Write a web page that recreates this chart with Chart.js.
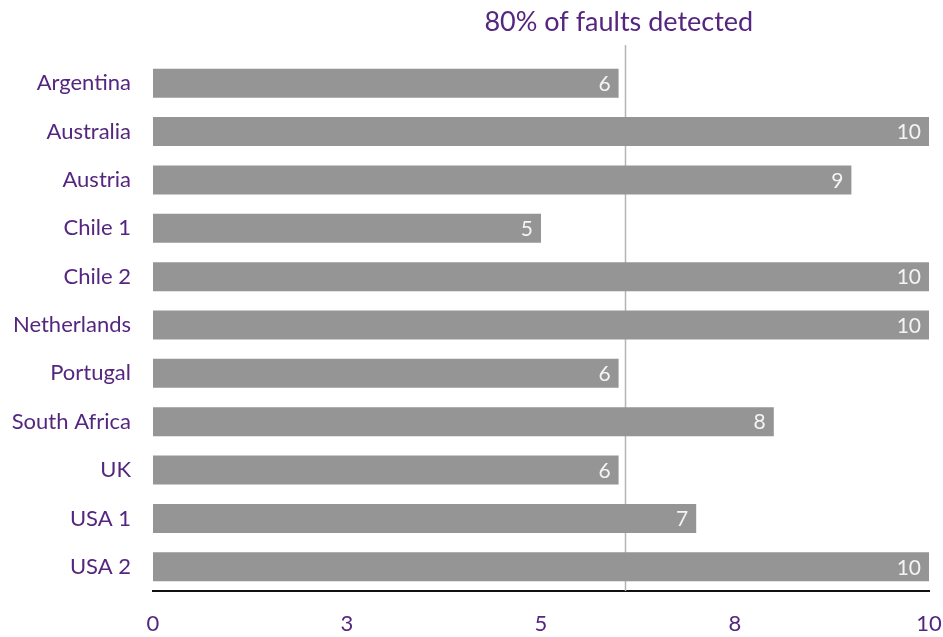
<!DOCTYPE html>
<html>
<head>
<meta charset="utf-8">
<script src="https://cdn.jsdelivr.net/npm/chart.js@4/dist/chart.umd.min.js"></script>
<style>
  html, body { margin: 0; padding: 0; background: #fff; }
  #wrap { width: 943px; height: 637px; }
</style>
</head>
<body>
<div id="wrap"><canvas id="faults-chart"></canvas></div>
<script>
const countries = ['Argentina', 'Australia', 'Austria', 'Chile 1', 'Chile 2', 'Netherlands',
  'Portugal', 'South Africa', 'UK', 'USA 1', 'USA 2'];
const faultsDetected = [6, 10, 9, 5, 10, 10, 6, 8, 6, 7, 10];
const tickValues = [0, 2.5, 5, 7.5, 10];
const tickLabels = ['0', '3', '5', '8', '10'];
const thresholdValue = 6.08;
const thresholdLabel = '80% of faults detected';

const purple = '#55267f';
const font = 'Lato, "DejaVu Sans", sans-serif';

// threshold line, its label and the numbers at the end of each bar
const overlay = {
  id: 'overlay',
  beforeDatasetsDraw(chart) {
    const { ctx, chartArea, scales: { x } } = chart;
    const px = Math.round(x.getPixelForValue(thresholdValue)) + 0.5;
    ctx.save();
    ctx.strokeStyle = '#b4b4b4';
    ctx.lineWidth = 1.5;
    ctx.beginPath();
    ctx.moveTo(px, 45);
    ctx.lineTo(px, chartArea.bottom);
    ctx.stroke();
    ctx.restore();
  },
  afterDatasetsDraw(chart) {
    const { ctx, scales: { x } } = chart;
    const px = x.getPixelForValue(thresholdValue);
    ctx.save();
    ctx.fillStyle = purple;
    ctx.font = '27px ' + font;
    ctx.textAlign = 'center';
    ctx.textBaseline = 'middle';
    ctx.fillText(thresholdLabel, px - 6, 22);

    ctx.fillStyle = '#f4f4f4';
    ctx.font = '21px ' + font;
    ctx.textAlign = 'right';
    chart.getDatasetMeta(0).data.forEach((bar, i) => {
      ctx.fillText(String(faultsDetected[i]), bar.x - 8, bar.y + 1);
    });
    ctx.restore();
  }
};

new Chart(document.getElementById('faults-chart'), {
  type: 'bar',
  data: {
    labels: countries,
    datasets: [{
      data: faultsDetected,
      backgroundColor: '#959595',
      borderWidth: 0,
      barPercentage: 0.6,
      categoryPercentage: 1
    }]
  },
  options: {
    indexAxis: 'y',
    responsive: true,
    maintainAspectRatio: false,
    animation: false,
    layout: { padding: { top: 59, right: 0, bottom: 0, left: 0 } },
    plugins: {
      legend: { display: false },
      tooltip: { enabled: false }
    },
    scales: {
      x: {
        min: 0,
        max: 10,
        afterBuildTicks: (scale) => {
          scale.ticks = tickValues.map(v => ({ value: v }));
        },
        afterFit: (scale) => {
          scale.height = 46;
          scale.paddingLeft = 0;
          scale.paddingRight = 14;
        },
        grid: { display: false, drawTicks: false },
        border: { display: true, color: '#111', width: 2 },
        ticks: {
          padding: 20,
          color: purple,
          font: { family: font, size: 22 },
          maxRotation: 0,
          callback: (value) => tickLabels[tickValues.indexOf(value)]
        }
      },
      y: {
        afterFit: (scale) => { scale.width = 153; },
        grid: { display: false, drawTicks: false },
        border: { display: false },
        ticks: {
          padding: 22,
          color: purple,
          font: { family: font, size: 22 }
        }
      }
    }
  },
  plugins: [overlay]
});
</script>
</body>
</html>
